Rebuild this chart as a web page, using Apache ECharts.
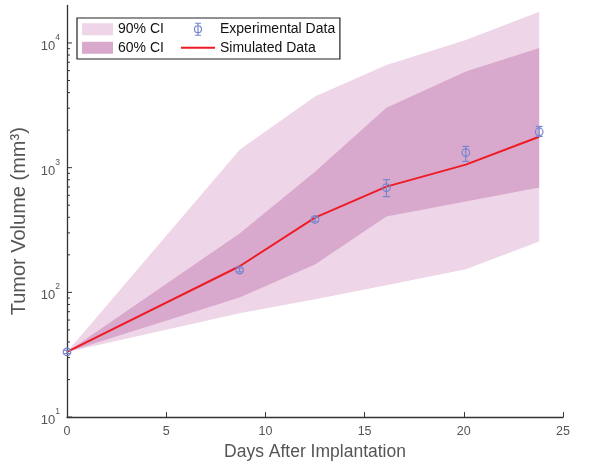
<!DOCTYPE html>
<html><head><meta charset="utf-8">
<script src="https://cdn.jsdelivr.net/npm/echarts@6/dist/echarts.min.js"></script>
<style>html,body{margin:0;padding:0;background:#fff}#c{width:592px;height:466px}</style>
</head><body><div id="c"></div>
<script>
// ---- data ----
const days = [0, 8.7, 12.5, 16.1, 20.1, 23.8];
const expMean = [33.3, 151, 384, 692, 1320, 1940];
const expLow  = [32.3, 146, 368, 586, 1122, 1780];
const expHigh = [34.3, 157, 402, 802, 1480, 2140];
const simValues = [33.3, 162, 398, 705, 1057, 1770];
const ci90Upper = [33.3, 1393, 3720, 6670, 10570, 17800];
const ci90Lower = [33.3, 68, 88, 114, 153, 256];
const ci60Upper = [33.3, 296, 929, 3020, 5890, 9120];
const ci60Lower = [33.3, 91, 167, 405, 535, 692];
const xTicks = [0, 5, 10, 15, 20, 25];
const yMajorTicks = [10, 100, 1000, 10000];
const yMajorExponents = ['1', '2', '3', '4'];
const yMinorTicks = [20,30,40,50,60,70,80,90,200,300,400,500,600,700,800,900,2000,3000,4000,5000,6000,7000,8000,9000];

const C90 = '#efd5e8', C60 = '#d9a9cd', CEXP = '#7586cf', CSIM = '#ee1b24';
const FONT = 'Liberation Sans';
const chart = echarts.init(document.getElementById('c'));

function band(name, upper, lower, color) {
  return {
    type: 'custom', name, silent: true, z: 1,
    data: days.map((d, i) => [d, upper[i]]),
    renderItem(params, api) {
      if (params.dataIndex !== 0) return;
      const pts = [];
      for (let i = 0; i < days.length; i++) pts.push(api.coord([days[i], upper[i]]));
      for (let i = days.length - 1; i >= 0; i--) pts.push(api.coord([days[i], lower[i]]));
      return { type: 'polygon', shape: { points: pts }, style: { fill: color } };
    }
  };
}
function ticks(vals, len) {
  return {
    type: 'custom', silent: true, z: 6,
    data: vals.map(v => [0, v]),
    renderItem(params, api) {
      const p = api.coord([0, api.value(1)]);
      return { type: 'line', shape: { x1: p[0], y1: p[1], x2: p[0] + len, y2: p[1] },
               style: { stroke: '#333', lineWidth: 1 } };
    }
  };
}
const legendText = { fontFamily: FONT, fontSize: 14, color: '#111', lineHeight: 14.5 };

chart.setOption({
  animation: false,
  grid: { left: 67, right: 29, top: 5.4, bottom: 48 },
  legend: [{
    left: 77, top: 18, orient: 'vertical', z: 4,
    itemWidth: 31, itemHeight: 12, itemGap: 4,
    padding: [4, 176, 4, 5],
    borderColor: '#222', borderWidth: 1.2, backgroundColor: '#fff',
    textStyle: legendText,
    data: [
      { name: '90% CI', icon: 'rect', itemStyle: { color: C90 } },
      { name: '60% CI', icon: 'rect', itemStyle: { color: C60 } }
    ]
  }, {
    left: 181, top: 22, orient: 'vertical', z: 5,
    itemWidth: 34, itemHeight: 12, itemGap: 4, padding: 0,
    textStyle: legendText,
    data: [
      { name: 'Experimental Data', icon: 'path://M3,0L9,0M6,0L6,12M3,12L9,12M2.5,6A3.5,3.5,0,1,1,9.5,6A3.5,3.5,0,1,1,2.5,6Z',
        itemStyle: { color: 'rgba(0,0,0,0)', borderColor: CEXP, borderWidth: 1.2 } },
      { name: 'Simulated Data', icon: 'path://M0,0L36,0L36,2L0,2Z', itemStyle: { color: CSIM, borderWidth: 0 } }
    ]
  }],
  xAxis: {
    type: 'value', min: 0, max: 25, interval: 5,
    axisLine: { lineStyle: { color: '#333', width: 1.3 } },
    axisTick: { inside: true, length: 5, lineStyle: { color: '#333' } },
    axisLabel: { color: '#555', fontSize: 12.5, fontFamily: FONT, margin: 8,
      formatter: v => xTicks.indexOf(v) >= 0 ? String(v) : '' },
    splitLine: { show: false },
    name: 'Days After Implantation', nameLocation: 'middle', nameGap: 25,
    nameTextStyle: { color: '#555', fontSize: 17.5, fontFamily: FONT }
  },
  yAxis: {
    type: 'log', logBase: 10, min: 10, max: 20000,
    axisLine: { lineStyle: { color: '#333', width: 1.3 } },
    axisTick: { show: false },
    splitLine: { show: false },
    axisLabel: {
      margin: 7, color: '#555', fontFamily: FONT,
      formatter: v => {
        const i = yMajorTicks.findIndex(t => Math.abs(t - v) / t < 1e-6);
        return i < 0 ? '' : '{b|10}{s|' + yMajorExponents[i] + '}';
      },
      rich: {
        b: { fontSize: 13, fontFamily: FONT, color: '#555', lineHeight: 20, verticalAlign: 'bottom' },
        s: { fontSize: 8.5, fontFamily: FONT, color: '#555', lineHeight: 10, verticalAlign: 'top' }
      }
    },
    name: 'Tumor Volume (mm³)', nameLocation: 'middle', nameGap: 15,
    nameTextStyle: { color: '#555', fontSize: 20, fontFamily: FONT, padding: [0, 20, 0, 0] }
  },
  series: [
    band('90% CI', ci90Upper, ci90Lower, C90),
    band('60% CI', ci60Upper, ci60Lower, C60),
    {
      type: 'line', name: 'Simulated Data', z: 3, symbol: 'none',
      data: days.map((d, i) => [d, simValues[i]]),
      lineStyle: { color: CSIM, width: 2 }, itemStyle: { color: CSIM }
    },
    {
      type: 'custom', name: 'Experimental Data', z: 4,
      data: days.map((d, i) => [d, expMean[i], expLow[i], expHigh[i]]),
      encode: { x: 0, y: [1, 2, 3] },
      renderItem(params, api) {
        const x = api.value(0);
        const c = api.coord([x, api.value(1)]);
        const lo = api.coord([x, api.value(2)]);
        const hi = api.coord([x, api.value(3)]);
        const st = { stroke: CEXP, lineWidth: 1.2, fill: null };
        return { type: 'group', children: [
          { type: 'line', shape: { x1: c[0], y1: lo[1], x2: c[0], y2: hi[1] }, style: st },
          { type: 'line', shape: { x1: c[0] - 3.5, y1: lo[1], x2: c[0] + 3.5, y2: lo[1] }, style: st },
          { type: 'line', shape: { x1: c[0] - 3.5, y1: hi[1], x2: c[0] + 3.5, y2: hi[1] }, style: st },
          { type: 'circle', shape: { cx: c[0], cy: c[1], r: 3.8 }, style: { stroke: CEXP, lineWidth: 1.2, fill: 'rgba(0,0,0,0)' } }
        ] };
      }
    },
    ticks(yMajorTicks, 5),
    ticks(yMinorTicks, 3)
  ]
});
</script></body></html>
